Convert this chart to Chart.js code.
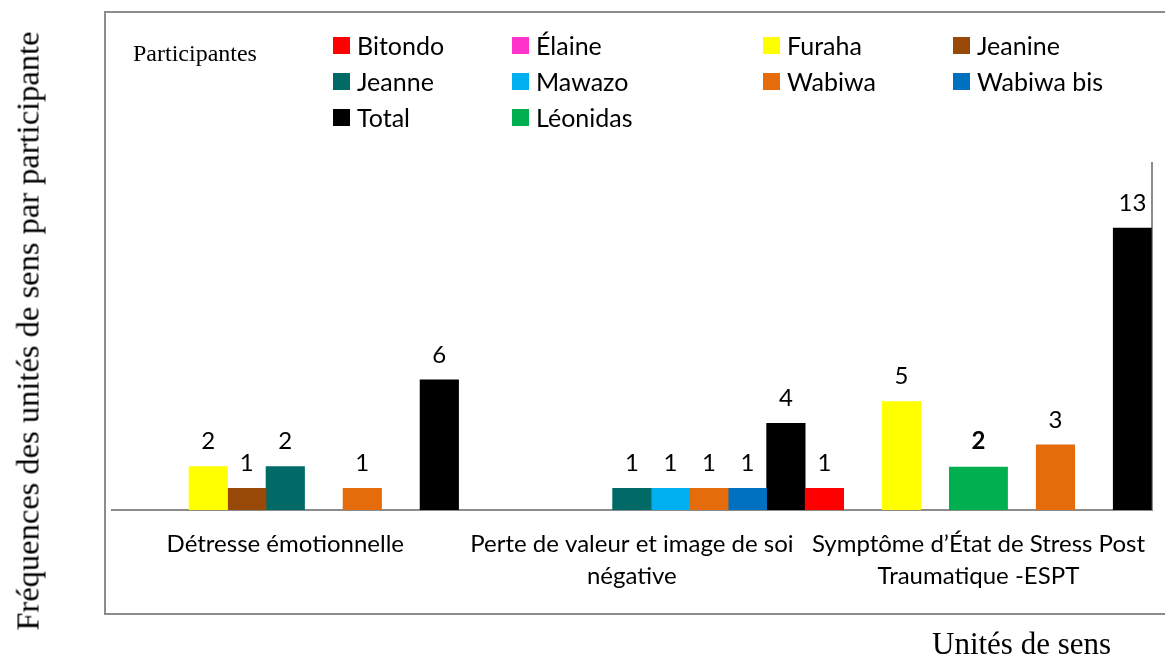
<!DOCTYPE html>
<html>
<head>
<meta charset="utf-8">
<script src="https://cdn.jsdelivr.net/npm/chart.js@4.4.1/dist/chart.umd.min.js"></script>
<style>
  html, body { margin: 0; padding: 0; background: #fff; overflow: hidden; }
  body { width: 1165px; height: 662px; position: relative; }
  .frame { position: absolute; left: 104px; top: 11px; width: 1100px; height: 600px; border: 2px solid #8c8c8c; }
  #chart { position: absolute; left: 0; top: 0; }
  .legend-title { position: absolute; left: 133px; top: 40px; font: 24px "Liberation Serif", "Times New Roman", serif; color: #000; }
  .legend { position: absolute; left: 333px; top: 27px; display: grid; grid-template-columns: 179px 251px 190px 200px; grid-auto-rows: 36px; }
  .legend .item { display: flex; align-items: center; font: 25px Lato, sans-serif; color: #000; white-space: nowrap; }
  .legend .box { width: 17px; height: 17px; margin-right: 7px; flex: none; }
  .ytitle { position: absolute; left: 28px; top: 331px; transform: translate(-50%, -50%) rotate(-90deg); font: 32.5px "Liberation Serif", "Times New Roman", serif; white-space: nowrap; color: #000; }
  .xtitle { position: absolute; left: 932px; top: 626px; font: 31px "Liberation Serif", "Times New Roman", serif; white-space: nowrap; color: #000; }
</style>
</head>
<body>
<div class="frame"></div>
<canvas id="chart" width="1165" height="662"></canvas>
<div class="legend-title">Participantes</div>
<div class="legend" id="legend"></div>
<div class="ytitle">Fréquences des unités de sens par participante</div>
<div class="xtitle">Unités de sens</div>
<script>
// categories (unités de sens), wrapped as on the picture
var categories = [
  ['Détresse émotionnelle'],
  ['Perte de valeur et image de soi', 'négative'],
  ['Symptôme d’État de Stress Post', 'Traumatique -ESPT']
];

var participants = ['Bitondo', 'Élaine', 'Furaha', 'Jeanine', 'Jeanne', 'Mawazo', 'Wabiwa', 'Wabiwa bis', 'Total', 'Léonidas'];

// one value per category, null = no bar
var bitondo   = [null, null, 1];
var elaine    = [null, null, null];
var furaha    = [2, null, 5];
var jeanine   = [1, null, null];
var jeanne    = [2, 1, null];
var mawazo    = [null, 1, null];
var wabiwa    = [1, 1, 3];
var wabiwaBis = [null, 1, null];
var total     = [6, 4, 13];
var leonidas  = [null, null, 2];

var colors = ['#FF0000', '#FF33CC', '#FFFF00', '#984807', '#006A66', '#00B0F0', '#E46C0A', '#0070C0', '#000000', '#00B050'];

var series = [bitondo, elaine, furaha, jeanine, jeanne, mawazo, wabiwa, wabiwaBis, total, leonidas];

var labelFont = '24px Lato, sans-serif';

function buildDatasets() {
  return series.map(function (values, i) {
    var ds = {
      label: participants[i],
      data: values,
      backgroundColor: colors[i],
      borderWidth: 0,
      categoryPercentage: 1,
      barPercentage: 1
    };
    // Léonidas is not part of the group: one wider bar centred on the category
    if (participants[i] === 'Léonidas') {
      ds.grouped = false;
      ds.barPercentage = 0.17;
    }
    return ds;
  });
}

// value labels above each bar
var valueLabels = {
  id: 'valueLabels',
  afterDatasetsDraw: function (chart) {
    var ctx = chart.ctx;
    ctx.save();
    ctx.fillStyle = '#000';
    ctx.textAlign = 'center';
    ctx.textBaseline = 'middle';
    chart.data.datasets.forEach(function (ds, i) {
      var meta = chart.getDatasetMeta(i);
      ctx.font = ds.label === 'Léonidas' ? 'bold ' + labelFont : labelFont;
      meta.data.forEach(function (el, j) {
        var v = ds.data[j];
        if (v === null || v === undefined) return;
        ctx.fillText(String(v), el.x, el.y - 25);
      });
    });
    ctx.restore();
  }
};

function buildLegend(chart) {
  var holder = document.getElementById('legend');
  chart.data.datasets.forEach(function (ds) {
    var item = document.createElement('div');
    item.className = 'item';
    var box = document.createElement('span');
    box.className = 'box';
    box.style.background = ds.backgroundColor;
    item.appendChild(box);
    item.appendChild(document.createTextNode(ds.label));
    holder.appendChild(item);
  });
}

var chart = new Chart(document.getElementById('chart').getContext('2d'), {
  type: 'bar',
  data: {
    labels: categories,
    datasets: buildDatasets()
  },
  options: {
    responsive: false,
    animation: false,
    events: [],
    layout: {
      padding: { left: 112, right: 12, top: 163, bottom: 52 }
    },
    plugins: {
      legend: { display: false },
      tooltip: { enabled: false }
    },
    scales: {
      x: {
        grid: { display: false, drawTicks: false },
        border: { display: true, color: '#8c8c8c', width: 2 },
        ticks: {
          color: '#000',
          padding: 18,
          maxRotation: 0,
          autoSkip: false,
          font: { family: 'Lato', size: 24, lineHeight: 1.35 }
        },
        afterFit: function (s) { s.height = 100; }
      },
      y: {
        display: false,
        min: 0,
        max: 16
      },
      y2: {
        position: 'right',
        min: 0,
        max: 16,
        grid: { display: false, drawTicks: false },
        ticks: { display: false },
        border: { display: true, color: '#8c8c8c', width: 2 },
        afterFit: function (s) { s.width = 0; }
      }
    }
  },
  plugins: [valueLabels]
});

buildLegend(chart);
</script>
</body>
</html>
